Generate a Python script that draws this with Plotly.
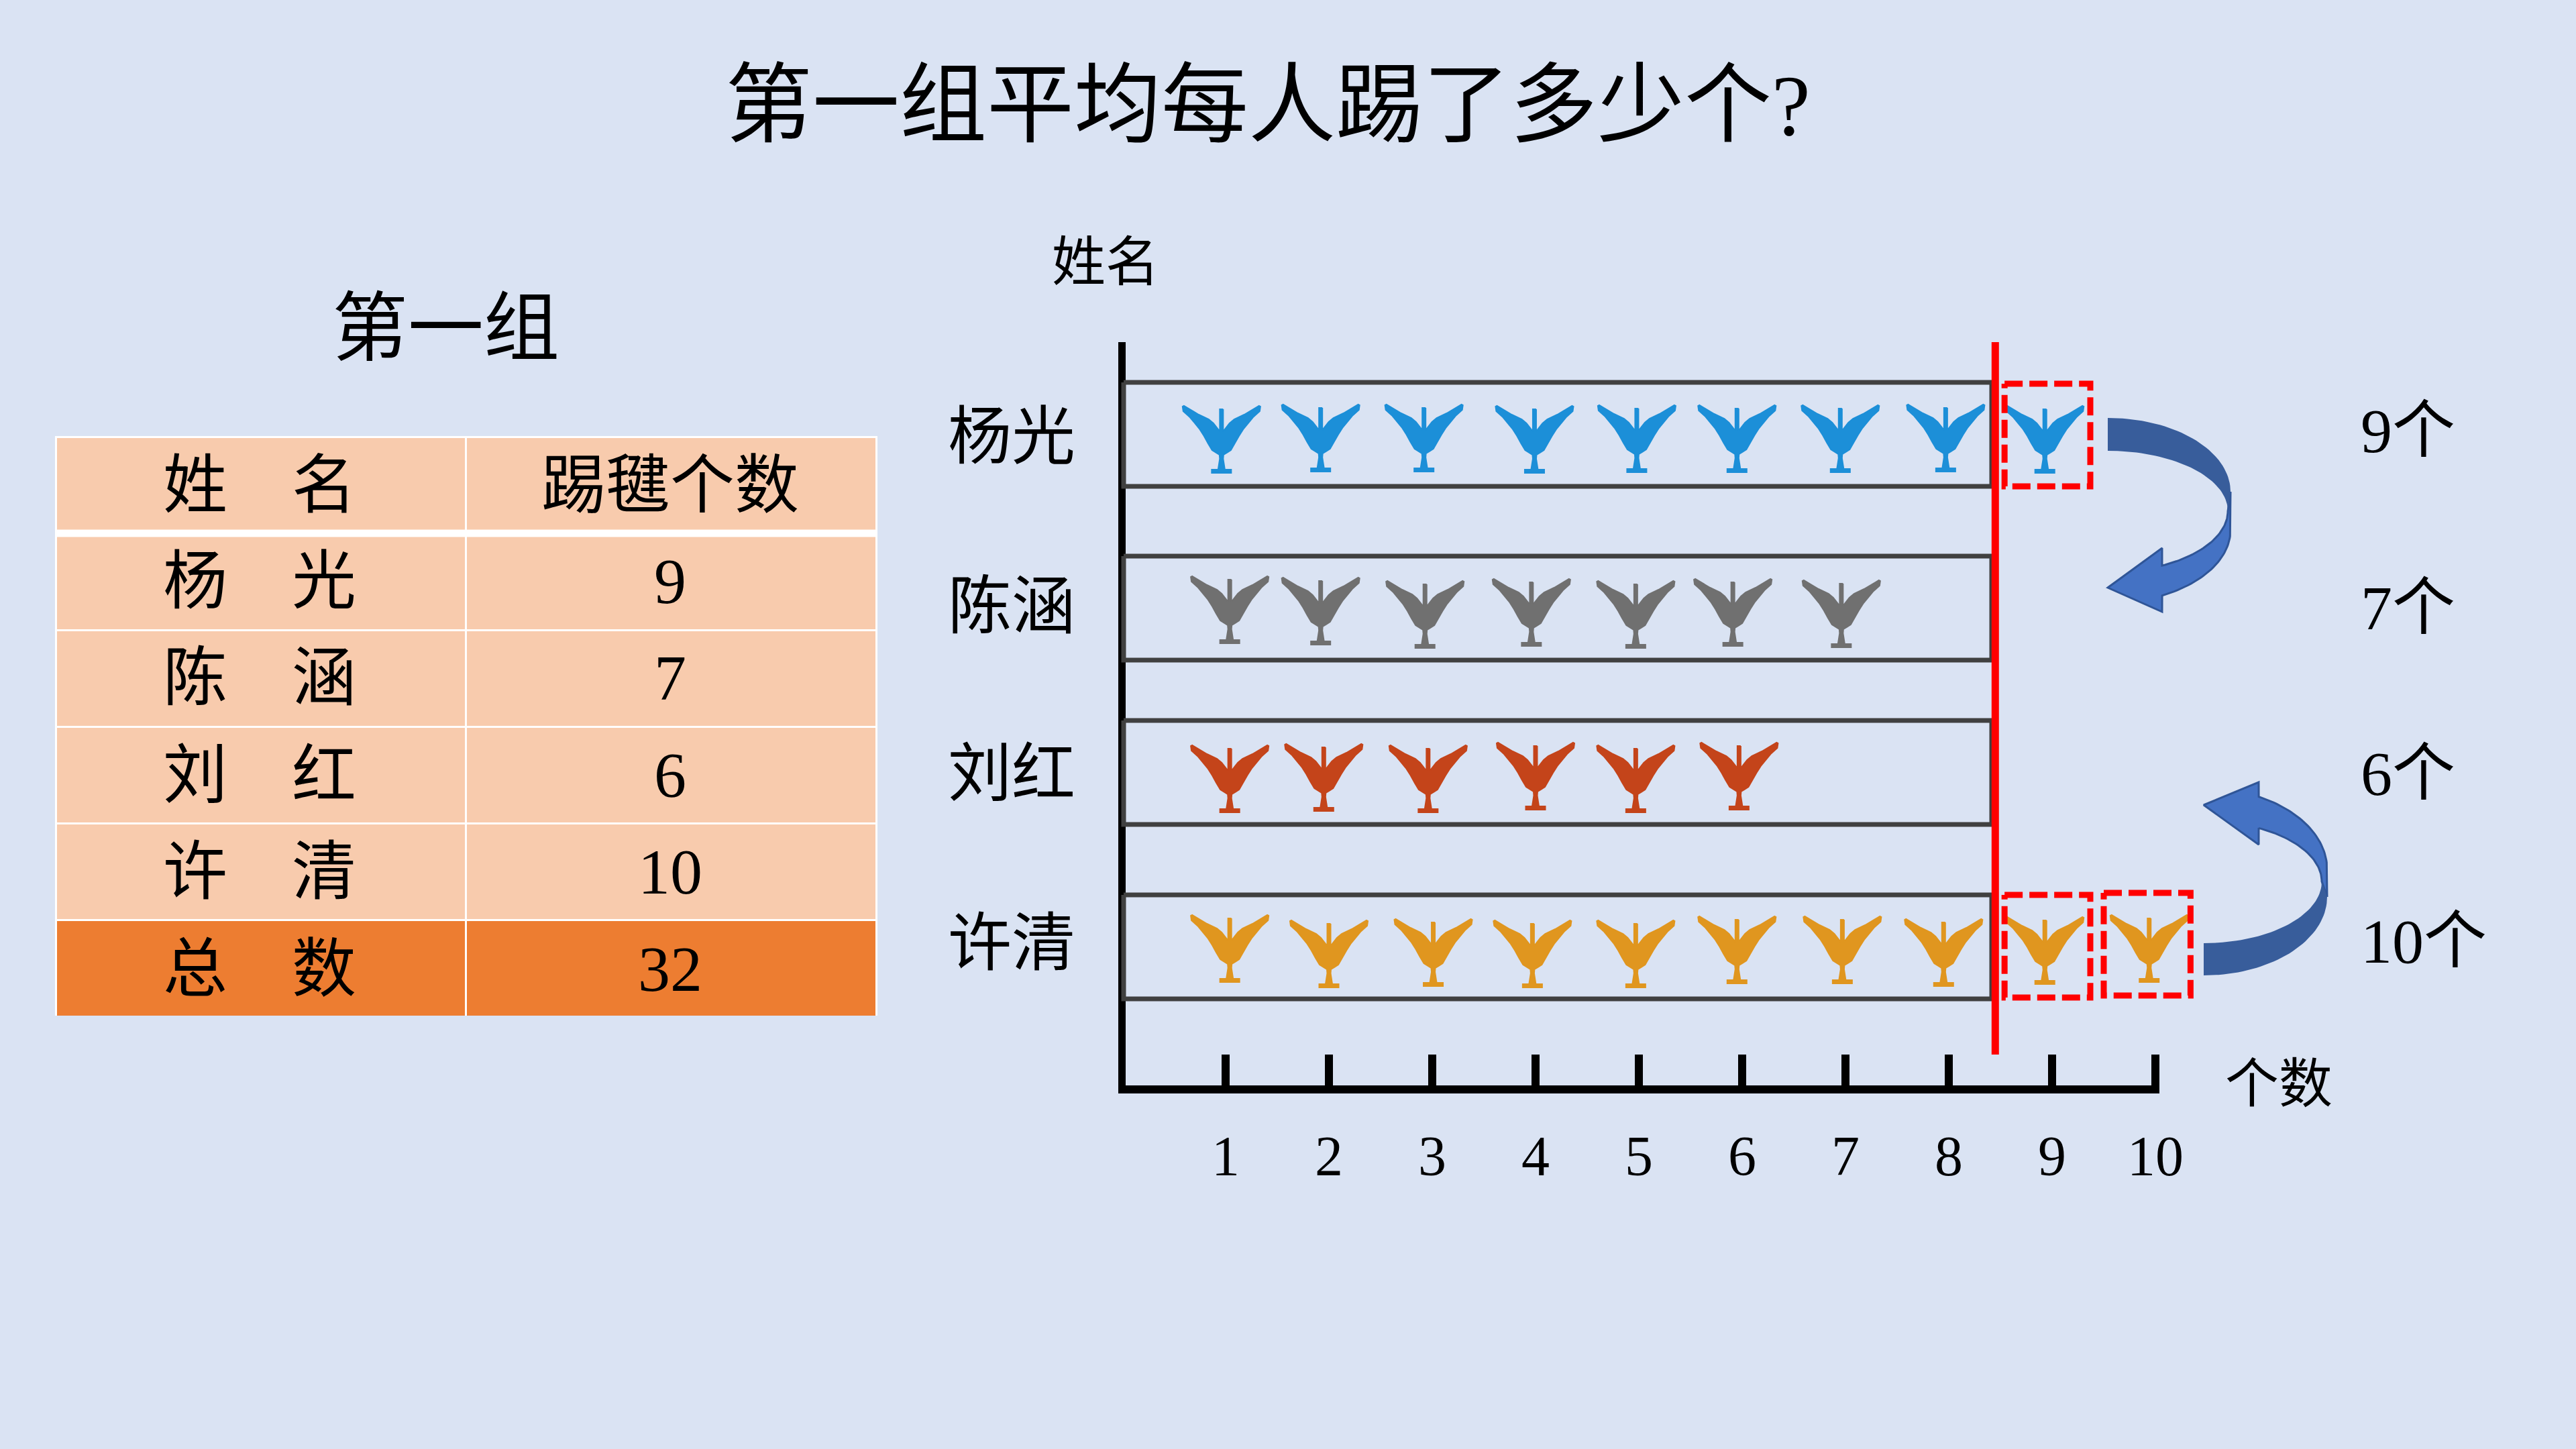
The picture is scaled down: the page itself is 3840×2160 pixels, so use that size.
import numpy as np
import plotly.graph_objects as go

# ---- table data ----
table_header = ["姓　名", "踢毽个数"]
table_names = ["杨　光", "陈　涵", "刘　红", "许　清", "总　数"]
table_counts = [9, 7, 6, 10, 32]

# ---- pictograph data ----
row_names = ["杨光", "陈涵", "刘红", "许清"]
row_counts = [9, 7, 6, 10]
count_ticks = [1, 2, 3, 4, 5, 6, 7, 8, 9, 10]
row_centers = [9.705, 7.115, 4.665, 2.065]
row_label_y = [9.67, 7.14, 4.65, 2.12]
row_half_height = 0.775

# where each shuttlecock stands: count-axis position and foot height on the row axis
yang_x = [0.96, 1.92, 2.92, 3.99, 4.98, 5.95, 6.95, 7.97, 8.93]
yang_y = [9.13, 9.15, 9.15, 9.13, 9.14, 9.14, 9.14, 9.15, 9.13]
chen_x = [1.04, 1.92, 2.93, 3.96, 4.97, 5.91, 6.96]
chen_y = [6.59, 6.57, 6.52, 6.55, 6.52, 6.55, 6.53]
liu_x = [1.04, 1.95, 2.96, 4.0, 4.97, 5.97]
liu_y = [4.07, 4.09, 4.07, 4.11, 4.07, 4.11]
xu_x = [1.04, 2.0, 3.01, 3.97, 4.97, 5.95, 6.97, 7.95, 8.93, 9.94]
xu_y = [1.54, 1.46, 1.48, 1.46, 1.46, 1.52, 1.52, 1.48, 1.51, 1.54]

row_x = [yang_x, chen_x, liu_x, xu_x]
row_y = [yang_y, chen_y, liu_y, xu_y]
row_colors = ["#1C8FD8", "#707070", "#C4441A", "#E0961F"]

average_line = 8.45
# pieces above the average: row, piece, frame reach to the left and right of the piece
moved_pieces = [(0, 8, 0.39, 0.44), (3, 8, 0.39, 0.44), (3, 9, 0.44, 0.40)]

side_labels = ["9个", "7个", "6个", "10个"]
side_label_y = [642, 906, 1153, 1403]

# ---- page layout ----
W, H = 3840, 2160
BG = "#DAE3F3"
SERIF = '"Liberation Serif", "Noto Sans CJK SC", sans-serif'
X0, XS = 1673.0, 154.0   # page x of count 0, pixels per count
Y0, YS = 1618.0, 100.0   # page y of row-axis 0, pixels per unit


def ux(px):
    return (np.asarray(px, dtype=float) - X0) / XS


def uy(py):
    return (Y0 - np.asarray(py, dtype=float)) / YS


# half outline of a shuttlecock: offset from centre, height above the foot, in page pixels
half_outline = [(2.5, 95), (2.5, 62), (12, 74), (19, 80), (34, 87), (56, 100), (58, 99),
                (57, 92), (47, 83), (33, 66), (26, 55), (20, 44), (14, 34), (8, 30), (3, 27),
                (2.5, 21), (4, 11), (5, 5), (14.5, 5), (14.5, 0)]
outline_dx = np.array([p[0] for p in half_outline] + [-p[0] for p in reversed(half_outline)])
outline_dy = np.array([p[1] for p in half_outline] + [p[1] for p in reversed(half_outline)])

fig = go.Figure()

# the axes subplot needs a trace of its own for its axis lines to render
fig.add_trace(go.Scatter(x=count_ticks, y=[0] * len(count_ticks), mode="markers",
                         marker=dict(opacity=0), hoverinfo="skip", showlegend=False))

# row frames
for c in row_centers:
    x_l, x_r = ux(1675), ux(2969)
    fig.add_trace(go.Scatter(
        x=[x_l, x_r, x_r, x_l, x_l], y=[c + row_half_height, c + row_half_height,
                                         c - row_half_height, c - row_half_height, c + row_half_height],
        mode="lines", line=dict(color="#404040", width=7), xaxis="x2", yaxis="y2",
        hoverinfo="skip", showlegend=False))

# shuttlecocks, one filled trace per row
for i, name in enumerate(row_names):
    xs, ys = [], []
    for px_c, py_b in zip(row_x[i][:row_counts[i]], row_y[i][:row_counts[i]]):
        xs += list(px_c + outline_dx / XS) + [px_c + outline_dx[0] / XS, None]
        ys += list(py_b + outline_dy / YS) + [py_b + outline_dy[0] / YS, None]
    fig.add_trace(go.Scatter(x=xs, y=ys, mode="lines", fill="toself", fillcolor=row_colors[i],
                             line=dict(color=row_colors[i], width=2), name=name,
                             xaxis="x2", yaxis="y2", hoverinfo="skip", showlegend=False))

# average cut-off line
fig.add_trace(go.Scatter(x=[average_line, average_line], y=[uy(1572), uy(510)], mode="lines",
                         line=dict(color="#FF0000", width=11), xaxis="x2", yaxis="y2",
                         hoverinfo="skip", showlegend=False))

# dashed frames round the pieces above the average
for r, k, reach_l, reach_r in moved_pieces:
    cx, cy = row_x[r][k], row_y[r][k]
    x_l, x_r = cx - reach_l, cx + reach_r
    y_b, y_t = cy - 0.20, cy + 1.33
    fig.add_trace(go.Scatter(x=[x_l, x_r, x_r, x_l, x_l], y=[y_t, y_t, y_b, y_b, y_t], mode="lines",
                             line=dict(color="#FF0000", width=9, dash="27px,10px"),
                             xaxis="x2", yaxis="y2", hoverinfo="skip", showlegend=False))


def arc(cx, cy, rx, ry, t0, t1, n=40):
    t = np.radians(np.linspace(t0, t1, n))
    return cx + rx * np.cos(t), cy + ry * np.sin(t)


def add_poly(px, py, fill, line):
    fig.add_trace(go.Scatter(x=list(ux(px)) + [ux(px[0])], y=list(uy(py)) + [uy(py[0])], mode="lines",
                             fill="toself", fillcolor=fill,
                             line=dict(color=line, width=3 if line != fill else 0),
                             xaxis="x2", yaxis="y2", hoverinfo="skip", showlegend=False))


DARK, LIGHT, EDGE = "#385D9B", "#4472C4", "#2F5597"

# upper curved arrow: lighter head first, darker tail folded over it
ox, oy = arc(3142, 790, 183, 109, 0, 63.7)
ix, iy = arc(3142, 762, 179, 91, 63.1, 0)
add_poly(np.r_[[3325], ox, [3223, 3142, 3223, 3223], ix], np.r_[[733], oy, [912, 876, 817, 843], iy], LIGHT, EDGE)
ox, oy = arc(3142, 733, 183, 110, -90, 0)
ix, iy = arc(3142, 762, 179, 90, 0, -90)
add_poly(np.r_[ox, ix], np.r_[oy, iy], DARK, DARK)

# lower curved arrow
ox, oy = arc(3285, 1296, 184, 121, 0, -63.5)
ix, iy = arc(3285, 1314, 176, 90, -62.2, 0)
add_poly(np.r_[[3469], ox, [3367, 3285, 3367, 3367], ix], np.r_[[1337], oy, [1166, 1200, 1259, 1234], iy], LIGHT, EDGE)
ox, oy = arc(3285, 1337, 184, 117, 90, 0)
ix, iy = arc(3285, 1314, 176, 92, 0, 90)
add_poly(np.r_[ox, ix], np.r_[oy, iy], DARK, DARK)


def label(text, px, py, size, anchor="center"):
    fig.add_annotation(text=text, x=float(ux(px)), y=float(uy(py)), xref="x2", yref="y2", xanchor=anchor,
                       yanchor="middle", showarrow=False, font=dict(family=SERIF, size=size, color="#000000"))


# left-hand table; its text goes on as labels so it can sit mid-cell
TABLE_X = [83, 695, 1306]
TABLE_TOP, HEADER_RULE, TABLE_BOTTOM = 651, 795, 1515
fig.add_trace(go.Table(
    domain=dict(x=[TABLE_X[0] / W, TABLE_X[2] / W], y=[1 - TABLE_BOTTOM / H, 1 - TABLE_TOP / H]),
    columnwidth=[611, 612],
    header=dict(values=["", ""], height=144, fill_color="#F8CBAD",
                line=dict(color="#FFFFFF", width=3)),
    cells=dict(values=[[""] * 5, [""] * 5], height=144,
               fill_color=[["#F8CBAD"] * 4 + ["#ED7D31"]] * 2,
               line=dict(color="#FFFFFF", width=3)),
))
col_centers = [387, 999]
row_text_y = [723, 866, 1010, 1155, 1299, 1444]
for col, texts in zip(col_centers, [[table_header[0]] + table_names,
                                    [table_header[1]] + [str(v) for v in table_counts]]):
    for text, py in zip(texts, row_text_y):
        label(text, col, py, 96)

# heavier rule under the table header
fig.add_shape(type="line", xref="paper", yref="paper", x0=TABLE_X[0] / W, x1=TABLE_X[2] / W,
              y0=1 - HEADER_RULE / H, y1=1 - HEADER_RULE / H, layer="above",
              line=dict(color="#FFFFFF", width=11))

label("第一组平均每人踢了多少个?", 1890, 157, 130)
label("第一组", 664, 489, 113)
label("姓名", 1648, 391, 80)
label("个数", 3397, 1616, 80)
for text, py in zip(side_labels, side_label_y):
    label(text, 3517, py, 94, "left")

fig.update_layout(
    width=W, height=H, margin=dict(l=0, r=0, t=0, b=0, pad=0), autosize=False,
    paper_bgcolor=BG, plot_bgcolor="rgba(0,0,0,0)", showlegend=False,
    xaxis=dict(domain=[1678 / W, 3219 / W], range=[ux(1678), ux(3219)], tickvals=count_ticks,
               ticks="inside", ticklen=46, tickwidth=12, tickcolor="#000000",
               showline=True, linewidth=12, linecolor="#000000", showgrid=False, zeroline=False,
               tickfont=dict(family=SERIF, size=84, color="#000000"), ticklabelstandoff=21,
               anchor="y", fixedrange=True, automargin=False),
    yaxis=dict(domain=[1 - 1618 / H, 1 - 510 / H], range=[0, uy(510)], tickvals=row_label_y,
               ticktext=row_names, ticks="", showline=True, linewidth=11, linecolor="#000000",
               showgrid=False, zeroline=False,
               tickfont=dict(family=SERIF, size=95, color="#000000"), ticklabelstandoff=45,
               anchor="x", fixedrange=True, automargin=False),
    xaxis2=dict(domain=[0, 1], range=[ux(0), ux(W)], visible=False, anchor="y2",
                fixedrange=True, automargin=False),
    yaxis2=dict(domain=[0, 1], range=[uy(H), uy(0)], visible=False, anchor="x2",
                fixedrange=True, automargin=False),
)

fig.write_html("out.html")
